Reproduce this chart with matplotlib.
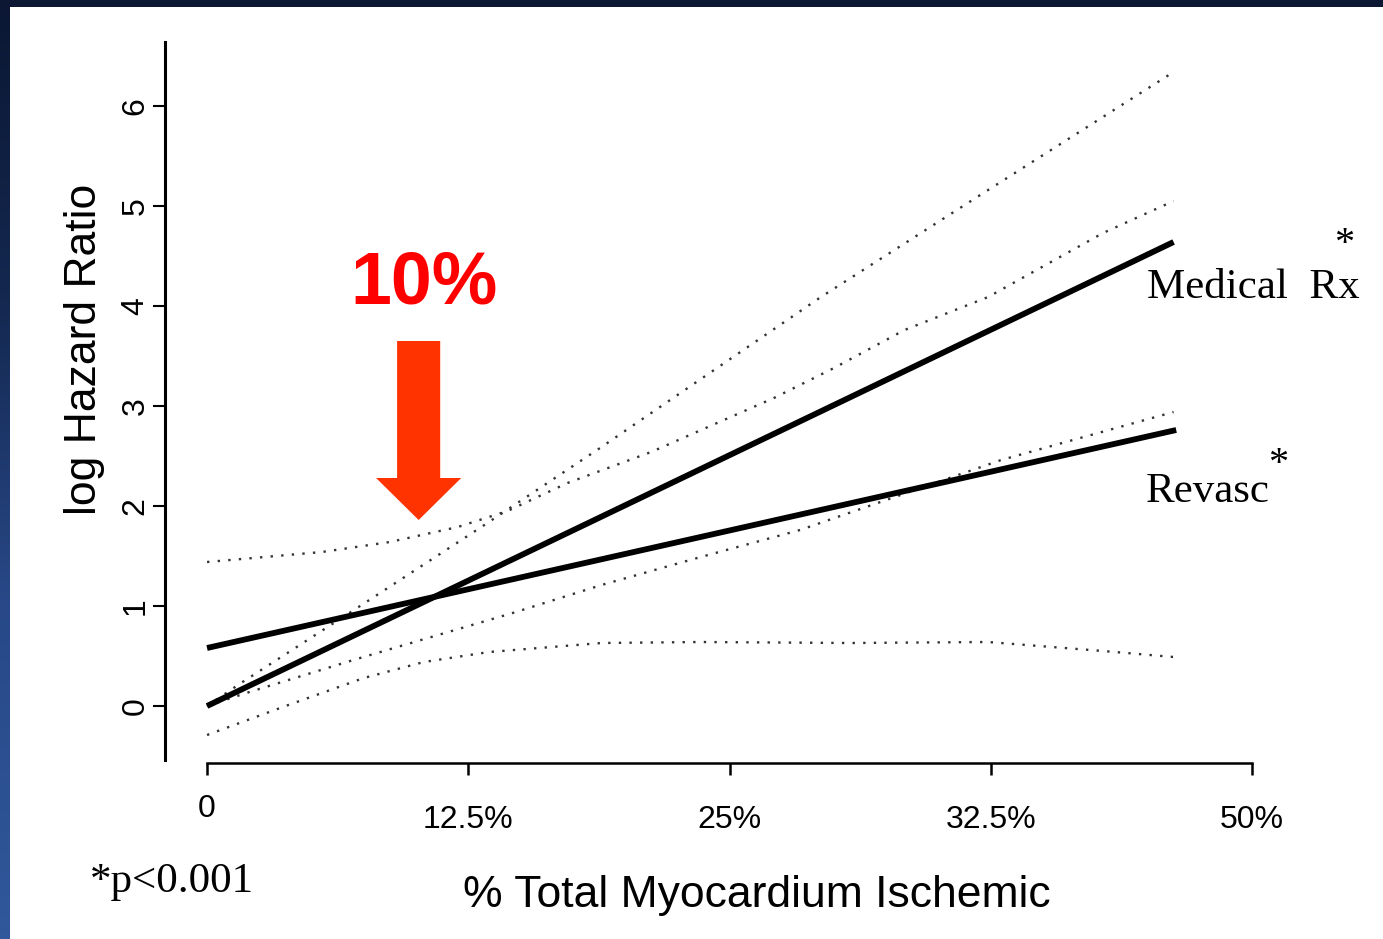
import matplotlib
matplotlib.use('Agg')
import matplotlib.pyplot as plt
import numpy as np
from matplotlib.patches import Rectangle, FancyArrow

plt.rcParams['font.family'] = ['Liberation Sans', 'DejaVu Sans']

# x is in axis units: 0..4 -> 0, 12.5%, 25%, 32.5%, 50%
x_ticks = [0, 1, 2, 3, 4]
x_labels = ['0', '12.5%', '25%', '32.5%', '50%']
y_ticks = [0, 1, 2, 3, 4, 5, 6]

# fitted lines
med_x = [0, 3.70]
med_y = [0, 4.64]
rev_x = [0, 3.71]
rev_y = [0.58, 2.76]

# confidence bands (dotted)
med_hi_x = [0, 0.13, 0.58, 1.05, 1.51, 1.84, 2.35, 2.96, 3.70]
med_hi_y = [0, 0.23, 0.99, 1.79, 2.59, 3.18, 4.09, 5.11, 6.34]
med_lo_x = [0, 0.15, 0.56, 1.17, 1.51, 1.89, 2.27, 3.04, 3.70]
med_lo_y = [0, 0.13, 0.46, 0.93, 1.21, 1.49, 1.76, 2.46, 2.94]
rev_hi_x = [0, 0.44, 0.70, 0.96, 1.15, 1.38, 1.70, 2.17, 2.40, 2.67, 2.99, 3.43, 3.70]
rev_hi_y = [1.44, 1.54, 1.64, 1.79, 1.95, 2.23, 2.54, 3.08, 3.38, 3.76, 4.09, 4.73, 5.05]
rev_lo_x = [0, 0.29, 0.60, 0.83, 1.08, 1.51, 1.89, 2.46, 2.99, 3.43, 3.70]
rev_lo_y = [-0.29, -0.01, 0.28, 0.44, 0.54, 0.63, 0.64, 0.63, 0.64, 0.55, 0.49]

W, H = 1383, 939
fig = plt.figure(figsize=(W / 100, H / 100), dpi=100)
fig.patch.set_facecolor('white')

# slide frame: dark band on top, blue gradient on the left
fig.patches.append(Rectangle((0, 1 - 7 / H), 1, 7 / H, transform=fig.transFigure,
                             facecolor='#0b1733', edgecolor='none', zorder=0))
side = fig.add_axes([0, 0, 10 / W, 1])
stops = np.array([0, 300, 600, 939]) / 939.0
rows = np.linspace(0, 1, 200)
cols = np.array([[11, 23, 51], [20, 40, 80], [40, 72, 135], [48, 88, 155]]) / 255.0
grad = np.stack([np.interp(rows, stops, cols[:, k]) for k in range(3)], axis=1)
side.imshow(grad[:, None, :], aspect='auto', extent=[0, 1, 1, 0])
side.set_axis_off()

ax = fig.add_axes([165 / W, 1 - 763 / H, (1253 - 165) / W, (763 - 42) / H])
ax.set_xlim(-0.161, 4.004)
ax.set_ylim(-0.57, 6.64)

dots = dict(color='#333333', lw=1.7, linestyle=(0, (1, 3.5)))
ax.plot(med_hi_x, med_hi_y, **dots)
ax.plot(med_lo_x, med_lo_y, **dots)
ax.plot(rev_hi_x, rev_hi_y, **dots)
ax.plot(rev_lo_x, rev_lo_y, **dots)
ax.plot(med_x, med_y, color='black', lw=4.2, solid_capstyle='butt')
ax.plot(rev_x, rev_y, color='black', lw=4.2, solid_capstyle='butt')

for s in ['top', 'right']:
    ax.spines[s].set_visible(False)
ax.spines['left'].set_linewidth(2.2)
ax.spines['left'].set_bounds(-0.54, 6.64)
ax.spines['bottom'].set_linewidth(1.8)
ax.spines['bottom'].set_bounds(0, 4)

ax.set_xticks(x_ticks)
ax.set_xticklabels(x_labels)
ax.set_yticks(y_ticks)
ax.tick_params(axis='x', direction='out', length=8.5, width=1.8, pad=22, labelsize=23)
ax.tick_params(axis='y', direction='out', length=8.5, width=1.5, pad=2, labelsize=23,
               labelrotation=90)
for lab in ax.get_yticklabels():
    lab.set_va('center')
ax.get_xticklabels()[0].set_y(0.016)

ax.set_ylabel('log Hazard Ratio', fontsize=32)
ax.yaxis.set_label_coords(-0.055, 0.573)
ax.set_xlabel('% Total Myocardium Ischemic', fontsize=32)
ax.xaxis.set_label_coords(0.544, -0.155)

serif = ['Liberation Serif', 'DejaVu Serif']
ax.text(3.60, 4.08, 'Medical  Rx', family=serif, fontsize=31, va='baseline', ha='left')
ax.text(4.352, 4.52, '*', family=serif, fontsize=29, va='baseline', ha='center')
ax.text(3.594, 2.04, 'Revasc', family=serif, fontsize=31, va='baseline', ha='left')
ax.text(4.10, 2.32, '*', family=serif, fontsize=29, va='baseline', ha='center')

# 10% callout with arrow
ax.text(0.548, 4.03, '10%', color='#ff0000', fontsize=53, fontweight='bold',
        va='baseline', ha='left')
ax.add_patch(FancyArrow(0.81, 3.65, 0, -1.79, width=0.165, head_width=0.326,
                        head_length=0.42, length_includes_head=True,
                        facecolor='#ff3300', edgecolor='none', zorder=5))

fig.text(90 / W, 1 - 892 / H, '*p<0.001', family=serif, fontsize=31, va='baseline', ha='left')

fig.savefig('out.png', dpi=100, facecolor=fig.get_facecolor())
